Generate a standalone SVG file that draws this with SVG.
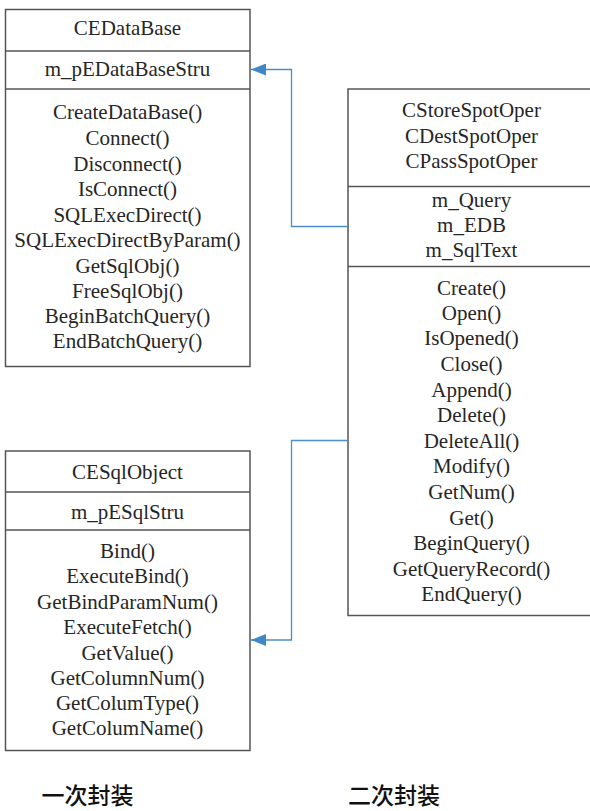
<svg xmlns="http://www.w3.org/2000/svg" width="590" height="811" viewBox="0 0 590 811">
<defs>
<style>
.box{fill:#fff;stroke:#555;stroke-width:1.5}
.div{stroke:#555;stroke-width:1.5}
.t{font-family:'Liberation Serif','Times New Roman',serif;font-size:21px;fill:#262626;text-anchor:middle}
.cap{font-family:'Noto Sans CJK SC','Noto Sans',sans-serif;font-size:23px;font-weight:500;fill:#111;text-anchor:middle}
.conn{fill:none;stroke:#4A8FCB;stroke-width:1.3}
</style>
<marker id="arr" viewBox="0 0 15 12" refX="15" refY="6" markerWidth="15" markerHeight="12" markerUnits="userSpaceOnUse" orient="auto">
<path d="M0,0 L15,6 L0,12 Z" fill="#3F88C8"/>
</marker>
</defs>
<rect width="590" height="811" fill="#fff"/>

<g id="CEDataBase">
<rect class="box" x="5.5" y="9.5" width="244.5" height="357"/>
<line class="div" x1="5.5" y1="51" x2="250" y2="51"/>
<line class="div" x1="5.5" y1="89" x2="250" y2="89"/>
<text class="t" x="127.5" y="35">CEDataBase</text>
<text class="t" x="127.5" y="76">m_pEDataBaseStru</text>
<text class="t" x="127.5" y="119">CreateDataBase()</text>
<text class="t" x="127.5" y="145">Connect()</text>
<text class="t" x="127.5" y="171">Disconnect()</text>
<text class="t" x="127.5" y="196">IsConnect()</text>
<text class="t" x="127.5" y="222">SQLExecDirect()</text>
<text class="t" x="127.5" y="247">SQLExecDirectByParam()</text>
<text class="t" x="127.5" y="273">GetSqlObj()</text>
<text class="t" x="127.5" y="298">FreeSqlObj()</text>
<text class="t" x="127.5" y="323">BeginBatchQuery()</text>
<text class="t" x="127.5" y="348">EndBatchQuery()</text>
</g>

<g id="SpotOper">
<rect class="box" x="348" y="89" width="247" height="526.5"/>
<line class="div" x1="348" y1="186.5" x2="595" y2="186.5"/>
<line class="div" x1="348" y1="266.5" x2="595" y2="266.5"/>
<text class="t" x="471.5" y="117">CStoreSpotOper</text>
<text class="t" x="471.5" y="143">CDestSpotOper</text>
<text class="t" x="471.5" y="168">CPassSpotOper</text>
<text class="t" x="471.5" y="207">m_Query</text>
<text class="t" x="471.5" y="232">m_EDB</text>
<text class="t" x="471.5" y="257">m_SqlText</text>
<text class="t" x="471.5" y="295">Create()</text>
<text class="t" x="471.5" y="320">Open()</text>
<text class="t" x="471.5" y="345">IsOpened()</text>
<text class="t" x="471.5" y="371">Close()</text>
<text class="t" x="471.5" y="397">Append()</text>
<text class="t" x="471.5" y="422">Delete()</text>
<text class="t" x="471.5" y="448">DeleteAll()</text>
<text class="t" x="471.5" y="473">Modify()</text>
<text class="t" x="471.5" y="499">GetNum()</text>
<text class="t" x="471.5" y="525">Get()</text>
<text class="t" x="471.5" y="550">BeginQuery()</text>
<text class="t" x="471.5" y="576">GetQueryRecord()</text>
<text class="t" x="471.5" y="601">EndQuery()</text>
</g>

<g id="CESqlObject">
<rect class="box" x="5.5" y="451" width="244.5" height="299.5"/>
<line class="div" x1="5.5" y1="492" x2="250" y2="492"/>
<line class="div" x1="5.5" y1="530" x2="250" y2="530"/>
<text class="t" x="127.5" y="479">CESqlObject</text>
<text class="t" x="127.5" y="519">m_pESqlStru</text>
<text class="t" x="127.5" y="558">Bind()</text>
<text class="t" x="127.5" y="583">ExecuteBind()</text>
<text class="t" x="127.5" y="609">GetBindParamNum()</text>
<text class="t" x="127.5" y="634">ExecuteFetch()</text>
<text class="t" x="127.5" y="660">GetValue()</text>
<text class="t" x="127.5" y="685">GetColumnNum()</text>
<text class="t" x="127.5" y="710">GetColumType()</text>
<text class="t" x="127.5" y="735">GetColumName()</text>
</g>

<g id="connectors">
<path class="conn" d="M348,226.5 H291.5 V69.5 H251" marker-end="url(#arr)"/>
<path class="conn" d="M348,440.5 H291.5 V640 H251" marker-end="url(#arr)"/>
</g>

<g id="labels">
<text class="cap" x="87.5" y="804">一次封装</text>
<text class="cap" x="394" y="804">二次封装</text>
</g>
</svg>
